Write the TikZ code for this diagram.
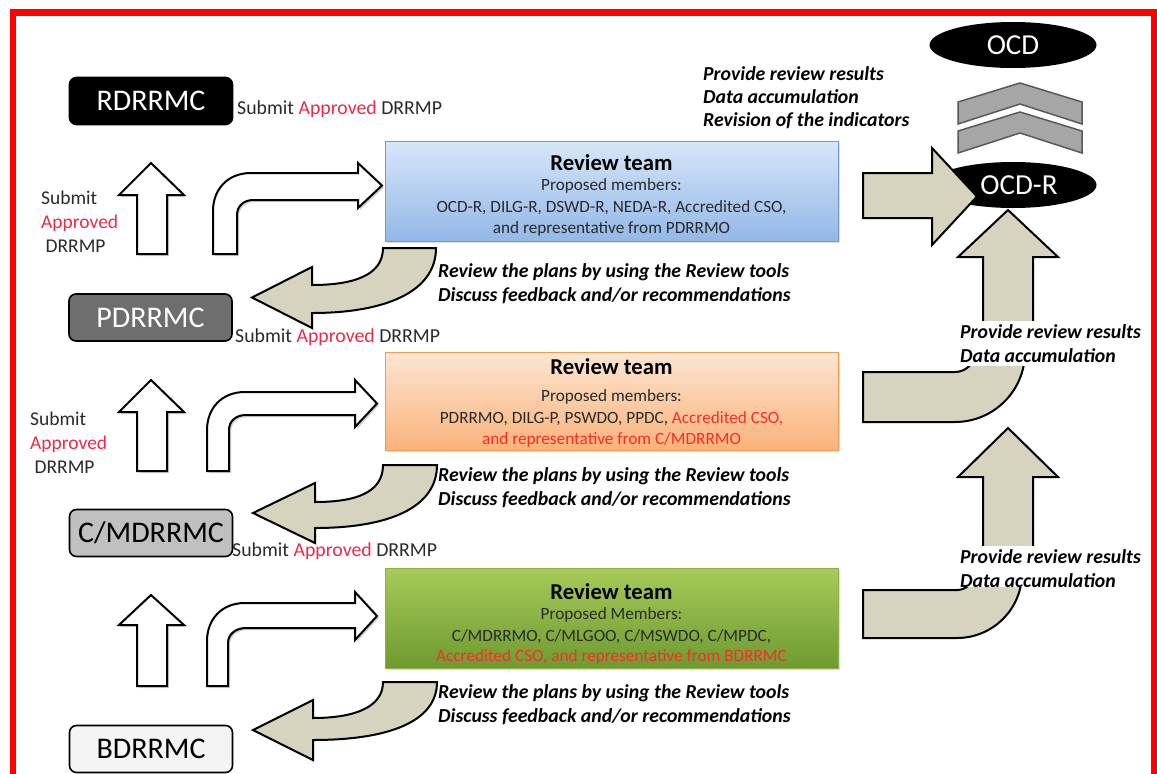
\documentclass[tikz,border=0pt]{standalone}
\usepackage{fontspec}
\setmainfont{Carlito}
\usetikzlibrary{shapes.geometric,shadows}

\definecolor{apred}{HTML}{F0284A}
\definecolor{csored}{HTML}{FF2A2A}
\definecolor{beige}{HTML}{D6D3BF}
\definecolor{chevgray}{HTML}{A6A6A6}
\definecolor{chevedge}{HTML}{595959}
\definecolor{txtgray}{HTML}{2A2A2A}
\definecolor{pdgray}{HTML}{6E6E6E}
\definecolor{cmgray}{HTML}{C0C0C0}
\definecolor{bgray}{HTML}{F4F4F4}
\definecolor{bluetop}{HTML}{D8E6F8}
\definecolor{bluebot}{HTML}{92B8E8}
\definecolor{blueedge}{HTML}{6F9BD5}
\definecolor{orangetop}{HTML}{FDE6D3}
\definecolor{orangebot}{HTML}{F9B27A}
\definecolor{orangeedge}{HTML}{F59A4F}
\definecolor{greentop}{HTML}{A6CB58}
\definecolor{greenbot}{HTML}{6E9A30}
\definecolor{greenedge}{HTML}{8CB048}

\newcommand{\submitline}{Submit \textcolor{apred}{Approved} DRRMP}

\tikzset{
  levelbox/.style={draw=black, line width=1.6pt, rounded corners=7pt,
    minimum width=163pt, minimum height=47pt, inner sep=0pt,
    font=\fontsize{30}{36}\selectfont},
  submittext/.style={font=\fontsize{19.8}{23}\selectfont, text=txtgray, inner sep=0pt},
  stacktext/.style={submittext, align=left, anchor=west, font=\fontsize{19.5}{24}\selectfont},
  teambox/.style={draw=#1, line width=1pt, minimum width=453pt, minimum height=100pt,
    drop shadow={opacity=0.25, shadow xshift=2pt, shadow yshift=-2pt}},
  teamtitle/.style={font=\fontsize{22.7}{26}\selectfont\bfseries, inner sep=0pt},
  teamtext/.style={font=\fontsize{17.2}{20}\selectfont, text=txtgray, inner sep=0pt},
  notetext/.style={font=\fontsize{19.8}{22}\selectfont\bfseries\itshape, anchor=west, inner sep=0pt},
  whitearrow/.style={draw=black, line width=2pt, fill=white,
    drop shadow={opacity=0.35, shadow xshift=2pt, shadow yshift=-2pt}},
  beigearrow/.style={draw=black, line width=2pt, fill=beige},
  ocdnode/.style={ellipse, fill=black, text=white, minimum width=167pt, minimum height=46pt,
    inner sep=0pt, font=\fontsize{29}{34}\selectfont},
  chevron/.style={draw=chevedge, line width=1.5pt, fill=chevgray}
}

\begin{document}
\begin{tikzpicture}[x=1pt,y=-1pt]
    \useasboundingbox (0,0) rectangle (1157,774);

    % Draw the red frame
    \draw[red, line width=6.5pt] (13,12.5) rectangle (1154.5,790);

    % Draw the committees on the left
    \node[levelbox, fill=black, text=white] (rdrrmc) at (151,101) {RDRRMC};
    \node[levelbox, fill=pdgray, text=white] (pdrrmc) at (150.5,317.5) {PDRRMC};
    \node[levelbox, fill=cmgray, text=black] (cmdrrmc) at (151,533) {C/MDRRMC};
    \node[levelbox, fill=bgray, text=black] (bdrrmc) at (151,749) {BDRRMC};

    \node[submittext, anchor=west] (sub1) at (237,109) {\submitline};
    \node[submittext, anchor=west] (sub2) at (235,337) {\submitline};
    \node[submittext, anchor=west] (sub3) at (232,551) {\submitline};

    \node[stacktext] (stack1) at (41,222) {Submit\\\textcolor{apred}{Approved}\\\ DRRMP};
    \node[stacktext] (stack2) at (30,443) {Submit\\\textcolor{apred}{Approved}\\\ DRRMP};

    % Draw the three review teams
    \node[teambox=blueedge, top color=bluetop, bottom color=bluebot] (team1) at (611.5,191) {};
    \node[teamtitle] (title1) at (611.5,163) {Review team};
    \node[teamtext] (prop1) at (611.5,186) {Proposed members:};
    \node[teamtext] (mem1a) at (611.5,208) {OCD-R, DILG-R, DSWD-R, NEDA-R, Accredited CSO,};
    \node[teamtext] (mem1b) at (611.5,229) {and representative from PDRRMO};

    \node[teambox=orangeedge, top color=orangetop, bottom color=orangebot, minimum height=98pt] (team2) at (611.5,401) {};
    \node[teamtitle] (title2) at (611.5,367) {Review team};
    \node[teamtext] (prop2) at (611.5,397) {Proposed members:};
    \node[teamtext] (mem2a) at (611.5,419) {PDRRMO, DILG-P, PSWDO, PPDC, \textcolor{csored}{Accredited CSO,}};
    \node[teamtext, text=csored] (mem2b) at (611.5,440) {and representative from C/MDRRMO};

    \node[teambox=greenedge, top color=greentop, bottom color=greenbot] (team3) at (611.5,618) {};
    \node[teamtitle] (title3) at (611.5,592) {Review team};
    \node[teamtext] (prop3) at (611.5,615) {Proposed Members:};
    \node[teamtext] (mem3a) at (611.5,637) {C/MDRRMO, C/MLGOO, C/MSWDO, C/MPDC,};
    \node[teamtext, text=csored] (mem3b) at (611.5,657) {Accredited CSO, and representative from BDRRMC};

    % Draw the white up arrows and bent arrows
    \draw[whitearrow] (137,254) -- (137,195) -- (119,195) -- (151,163) -- (184,195) -- (167,195) -- (167,254) -- cycle;
    \draw[whitearrow] (213,254) -- (213,211) .. controls (213,190) and (227,173) .. (251,173) -- (358,173) -- (358,163)
        -- (382,185.5) -- (358,208) -- (358,200) -- (253,200) .. controls (244,200) and (237,206) .. (237,215) -- (237,254) -- cycle;

    \draw[whitearrow] (137,471) -- (137,412) -- (119,412) -- (151,380) -- (184,412) -- (167,412) -- (167,471) -- cycle;
    \draw[whitearrow] (207,471) -- (207,430) .. controls (207,409) and (221,392) .. (245,392) -- (355,392) -- (355,380)
        -- (377,403.5) -- (355,427) -- (355,415) -- (246,415) .. controls (236,415) and (229,421) .. (229,430) -- (229,471) -- cycle;

    \draw[whitearrow] (137,686) -- (137,625) -- (119,625) -- (151,595) -- (184,625) -- (167,625) -- (167,686) -- cycle;
    \draw[whitearrow] (207,686) -- (207,641) .. controls (207,620) and (221,603) .. (245,603) -- (355,603) -- (355,592)
        -- (377,616) -- (355,640) -- (355,628) -- (246,628) .. controls (236,628) and (228,634) .. (228,643) -- (228,686) -- cycle;

    % Draw the curved arrows back to the committees
    \draw[beigearrow] (383,248) -- (436,248) .. controls (436,292) and (385,313) .. (312,313) -- (312,328)
        -- (252,297.5) -- (312,267) -- (312,285) .. controls (352,285) and (383,276) .. (383,248) -- cycle;
    \draw[beigearrow] (383,465) -- (437,465) .. controls (437,508) and (388,528) .. (315,528) -- (315,543)
        -- (253,513) -- (315,483) -- (315,502) .. controls (355,502) and (383,493) .. (383,465) -- cycle;
    \draw[beigearrow] (383,682) -- (437,682) .. controls (437,722) and (388,740) .. (313,740) -- (313,760)
        -- (253,730) -- (313,700) -- (313,718) .. controls (353,718) and (383,708) .. (383,682) -- cycle;

    \node[notetext] (rev1a) at (438,272) {Review the plans by using the Review tools};
    \node[notetext] (rev1b) at (438,296) {Discuss feedback and/or recommendations};
    \node[notetext] (rev2a) at (438,476) {Review the plans by using the Review tools};
    \node[notetext] (rev2b) at (438,500) {Discuss feedback and/or recommendations};
    \node[notetext] (rev3a) at (438,693) {Review the plans by using the Review tools};
    \node[notetext] (rev3b) at (438,717) {Discuss feedback and/or recommendations};

    % Draw OCD and OCD-R on the right
    \node[ocdnode] (ocd) at (1013,45) {OCD};
    \draw[chevron] (958,102) -- (1020,83) -- (1082,102) -- (1082,124) -- (1020,104) -- (958,124) -- cycle;
    \draw[chevron] (958,131) -- (1020,112) -- (1082,131) -- (1082,153) -- (1020,133) -- (958,153) -- cycle;
    \node[ocdnode] (ocdr) at (1013,185) {\hspace*{12pt}OCD-R};

    \draw[beigearrow] (863,173) -- (932,173) -- (932,148) -- (977,196.5) -- (932,245) -- (932,218) -- (863,218) -- cycle;

    \node[notetext] (top1) at (703,74) {Provide review results};
    \node[notetext] (top2) at (703,97) {Data accumulation};
    \node[notetext] (top3) at (703,121) {Revision of the indicators};

    % Draw the arrows up to OCD-R
    \begin{scope}
        \clip (940,200) rectangle (1080,320);
        \draw[beigearrow] (983,326) -- (983,257) -- (958,257) -- (1008,210) -- (1058,257) -- (1033,257) -- (1033,326) -- cycle;
    \end{scope}
    \begin{scope}
        \clip (940,420) rectangle (1080,545);
        \draw[beigearrow] (983,551) -- (983,477) -- (958,477) -- (1008,428) -- (1058,477) -- (1033,477) -- (1033,551) -- cycle;
    \end{scope}
    \begin{scope}
        \clip (850,366) rectangle (1100,440);
        \draw[beigearrow] (863,372) -- (955,372) .. controls (966,372) and (975,363) .. (975,352) -- (1025,352)
            .. controls (1025,390.7) and (993.7,422) .. (955,422) -- (863,422) -- cycle;
    \end{scope}
    \begin{scope}
        \clip (850,587) rectangle (1100,660);
        \draw[beigearrow] (863,590) -- (957,590) .. controls (966.4,590) and (974,582.4) .. (974,573) -- (1022,573)
            .. controls (1022,608.9) and (992.9,638) .. (957,638) -- (863,638) -- cycle;
    \end{scope}

    \node[notetext] (res1a) at (960,332) {Provide review results};
    \node[notetext] (res1b) at (960,356) {Data accumulation};
    \node[notetext] (res2a) at (960,557) {Provide review results};
    \node[notetext] (res2b) at (960,581) {Data accumulation};
\end{tikzpicture}
\end{document}
